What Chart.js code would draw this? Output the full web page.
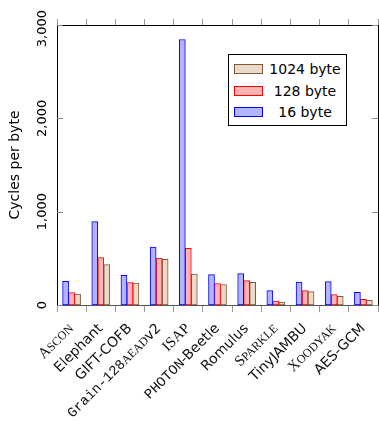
<!DOCTYPE html>
<html>
<head>
<meta charset="utf-8">
<script src="https://cdn.jsdelivr.net/npm/chart.js@4"></script>
<style>
  body { margin: 0; background: #fff; }
  #wrap { position: relative; width: 379px; height: 422px; }
  #legend {
    position: absolute; left: 228px; top: 54px; width: 117px; height: 70px;
    border: 1px solid #000; background: #fff;
    font: 14px "DejaVu Sans", sans-serif; color: #000;
  }
  .row { position: absolute; left: 5px; height: 16px; width: 112px; }
  .sw { position: absolute; left: 0; top: 3px; width: 27px; height: 8px; border: 1px solid; }
  .lbl { position: absolute; left: 30px; right: 0; text-align: center; line-height: 16px; }
</style>
</head>
<body>
<div id="wrap">
  <canvas id="chart" width="379" height="422"></canvas>
  <div id="legend"></div>
</div>
<script>
// Data
const categories = ['Ascon', 'Elephant', 'GIFT-COFB', 'Grain-128AEADv2', 'ISAP', 'PHOTON-Beetle',
    'Romulus', 'Sparkle', 'TinyJAMBU', 'Xoodyak', 'AES-GCM'];
const bytes16 = [254, 893, 318, 621, 2845, 325, 336, 154, 246, 250, 136];
const bytes128 = [133, 507, 240, 503, 607, 229, 261, 43, 154, 111, 61];
const bytes1024 = [118, 432, 235, 489, 332, 218, 243, 32, 143, 93, 50];
const yTicks = [0, 1000, 2000, 3000];

// how each category name is typeset (small caps / typewriter pieces)
const SANS = '14px "DejaVu Sans", sans-serif';
const SC_BIG = '15px "Liberation Serif", serif';
const SC_SMALL = '12px "Liberation Serif", serif';
const MONO = '14px "Liberation Mono", monospace';
const labelParts = [
    [['A', SC_BIG], ['SCON', SC_SMALL]],
    [['Elephant', SANS]],
    [['GIFT-COFB', SANS]],
    [['Grain-128', MONO], ['AEAD', SC_SMALL], ['v2', SANS]],
    [['ISAP', SC_BIG]],
    [['PHOTON', MONO], ['-Beetle', SANS]],
    [['Romulus', SANS]],
    [['S', SC_BIG], ['PARKLE', SC_SMALL]],
    [['TinyJAMBU', SANS]],
    [['X', SC_BIG], ['OODYAK', SC_SMALL]],
    [['AES-GCM', SANS]]
];

const datasets = [
    { label: '16 byte', data: bytes16, backgroundColor: '#b3b3ff', borderColor: '#0000ff' },
    { label: '128 byte', data: bytes128, backgroundColor: '#ffb3b3', borderColor: '#ff0000' },
    { label: '1024 byte', data: bytes1024, backgroundColor: '#ecdac8', borderColor: '#7f5a36' }
].map(d => Object.assign(d, { borderWidth: 1, borderSkipped: false, categoryPercentage: 0.72, barThickness: 6, xAxisID: 'x' }));

// axis labels, inner ticks and right frame
const framePlugin = {
    id: 'frame',
    afterDraw(chart) {
        const { ctx, chartArea: a, scales: { x, y } } = chart;
        ctx.save();
        ctx.strokeStyle = '#888';
        ctx.lineWidth = 1;
        yTicks.forEach(v => {
            const py = Math.round(y.getPixelForValue(v)) + 0.5;
            ctx.beginPath();
            ctx.moveTo(a.left, py); ctx.lineTo(a.left + 6, py);
            ctx.moveTo(a.right - 6, py); ctx.lineTo(a.right, py);
            ctx.stroke();
        });
        ctx.strokeStyle = '#000';
        ctx.beginPath();
        ctx.moveTo(a.right + 0.5, a.top); ctx.lineTo(a.right + 0.5, a.bottom);
        ctx.stroke();

        // y tick labels, rotated
        ctx.fillStyle = '#000';
        ctx.font = '13px "DejaVu Sans", sans-serif';
        ctx.textAlign = 'center';
        ctx.textBaseline = 'middle';
        yTicks.forEach(v => {
            const txt = v.toLocaleString('en-US');
            const half = ctx.measureText(txt).width / 2;
            const py = Math.max(y.getPixelForValue(v), half + 10);
            ctx.save();
            ctx.translate(43, py);
            ctx.rotate(-Math.PI / 2);
            ctx.fillText(txt, 0, 0);
            ctx.restore();
        });

        // x tick labels, 45 degrees, mixed fonts
        ctx.textAlign = 'left';
        ctx.textBaseline = 'alphabetic';
        ctx.fillStyle = '#111';
        labelParts.forEach((parts, i) => {
            let total = 0;
            parts.forEach(([t, f]) => { ctx.font = f; total += ctx.measureText(t).width; });
            ctx.save();
            ctx.translate(x.getPixelForValue(i) + 2.5, a.bottom + 24);
            ctx.rotate(-Math.PI / 4);
            let cx = -total;
            parts.forEach(([t, f]) => {
                ctx.font = f;
                ctx.fillText(t, cx, 0);
                cx += ctx.measureText(t).width;
            });
            ctx.restore();
        });
        ctx.restore();
    }
};

new Chart(document.getElementById('chart'), {
    type: 'bar',
    data: { labels: categories, datasets: datasets },
    options: {
        responsive: false,
        animation: false,
        devicePixelRatio: 1,
        layout: { padding: { top: 19, right: 1, left: 0, bottom: 0 } },
        plugins: { legend: { display: false }, tooltip: { enabled: false } },
        scales: {
            x: {
                offset: true,
                grid: { drawOnChartArea: false, tickLength: 7, color: '#999' },
                border: { color: '#555' },
                ticks: { display: false },
                afterFit: s => { s.height = 117; }
            },
            x2: {
                position: 'top',
                offset: true,
                grid: { drawOnChartArea: false, tickLength: 6, color: '#999' },
                border: { color: '#000' },
                ticks: { display: false }
            },
            y: {
                min: 0, max: 3000,
                ticks: { display: false, stepSize: 1000 },
                grid: { display: false },
                border: { color: '#000' },
                title: { display: true, text: 'Cycles per byte', color: '#000', font: { family: '"DejaVu Sans", sans-serif', size: 14 }, padding: { top: 7, bottom: 0 } },
                afterFit: s => { s.width = 57; }
            }
        }
    },
    plugins: [framePlugin]
});

// Legend (reversed order, as in the original)
const legend = document.getElementById('legend');
datasets.slice().reverse().forEach((d, i) => {
    const row = document.createElement('div');
    row.className = 'row';
    row.style.top = (6 + i * 21.5) + 'px';
    row.innerHTML = `<span class="sw" style="background:${d.backgroundColor};border-color:${d.borderColor}"></span><span class="lbl">${d.label}</span>`;
    legend.appendChild(row);
});
</script>
</body>
</html>
